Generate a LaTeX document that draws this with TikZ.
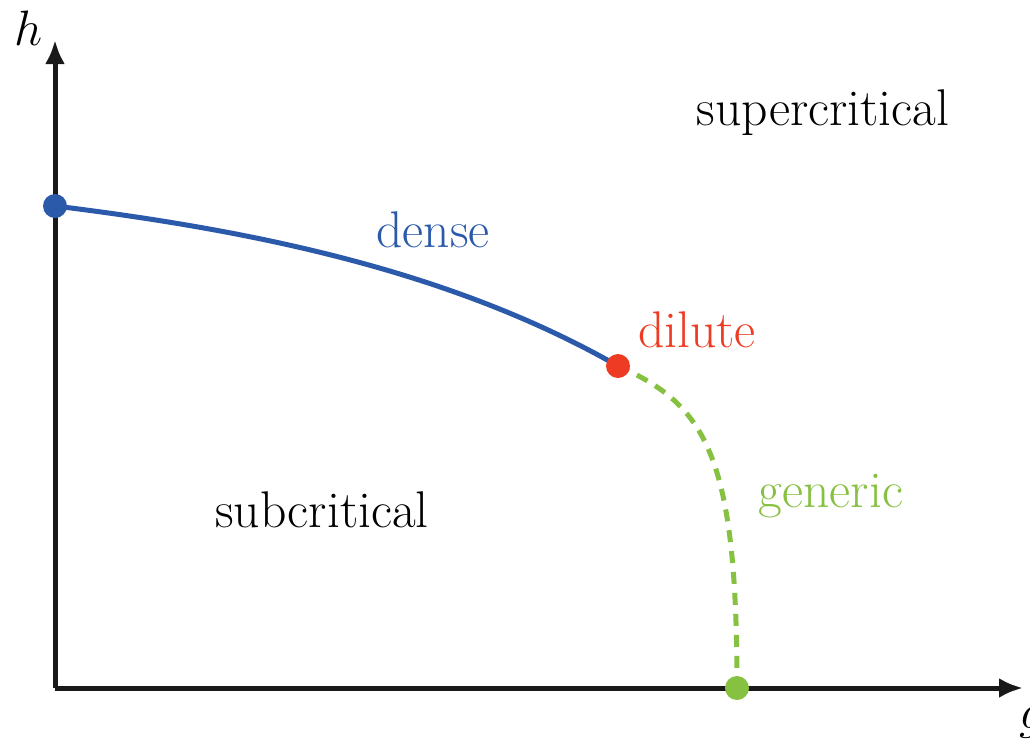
\documentclass[tikz,border=0pt]{standalone}
\usepackage{tikz}
\usetikzlibrary{arrows.meta}
\usepackage{xcolor}

\definecolor{denseblue}{RGB}{44,90,170}
\definecolor{dilutered}{RGB}{238,60,36}
\definecolor{genericgreen}{RGB}{134,193,66}

\begin{document}
\begin{tikzpicture}[
  x=0.5pt,y=-0.5pt,
  every node/.style={font=\fontsize{25.8}{30}\selectfont,inner sep=0pt},
  axis/.style={line width=2.5pt,draw=black!90,-{Latex[length=12pt,width=10pt]}},
  phaseline/.style={line width=2.5pt},
  pointdot/.style={circle,minimum size=12pt,fill}
]
  \useasboundingbox (0,0) rectangle (1030,740);
  \coordinate (origin) at (55,688);
  \coordinate (htop) at (55,40);
  \coordinate (gend) at (1023,688);
  \coordinate (hzero) at (55,206);
  \coordinate (tricrit) at (618,366);
  \coordinate (gzero) at (737,688);
  \path[axis] (origin) -- (htop);
  \path[axis] (origin) -- (gend);
  \node[anchor=base west] (hlabel) at (14,45) {$h$};
  \node[anchor=base west] (glabel) at (1019,728) {$g$};
  \draw[phaseline,denseblue] (hzero) .. controls (250,230) and (450,270) .. (tricrit);
  \draw[phaseline,genericgreen,dash pattern=on 6pt off 4.5pt] (tricrit) .. controls (706,405) and (737,455) .. (gzero);
  \node[pointdot,denseblue] (densept) at (hzero) {};
  \node[pointdot,dilutered] (dilutept) at (tricrit) {};
  \node[pointdot,genericgreen] (genericpt) at (gzero) {};
  \node[anchor=base] (super) at (823,125) {supercritical};
  \node[anchor=base] (sub) at (322,527) {subcritical};
  \node[anchor=base,text=denseblue] (dense) at (433,247) {dense};
  \node[anchor=base,text=dilutered] (dilute) at (697,347) {dilute};
  \node[anchor=base,text=genericgreen] (generic) at (831,507) {generic};
\end{tikzpicture}
\end{document}
